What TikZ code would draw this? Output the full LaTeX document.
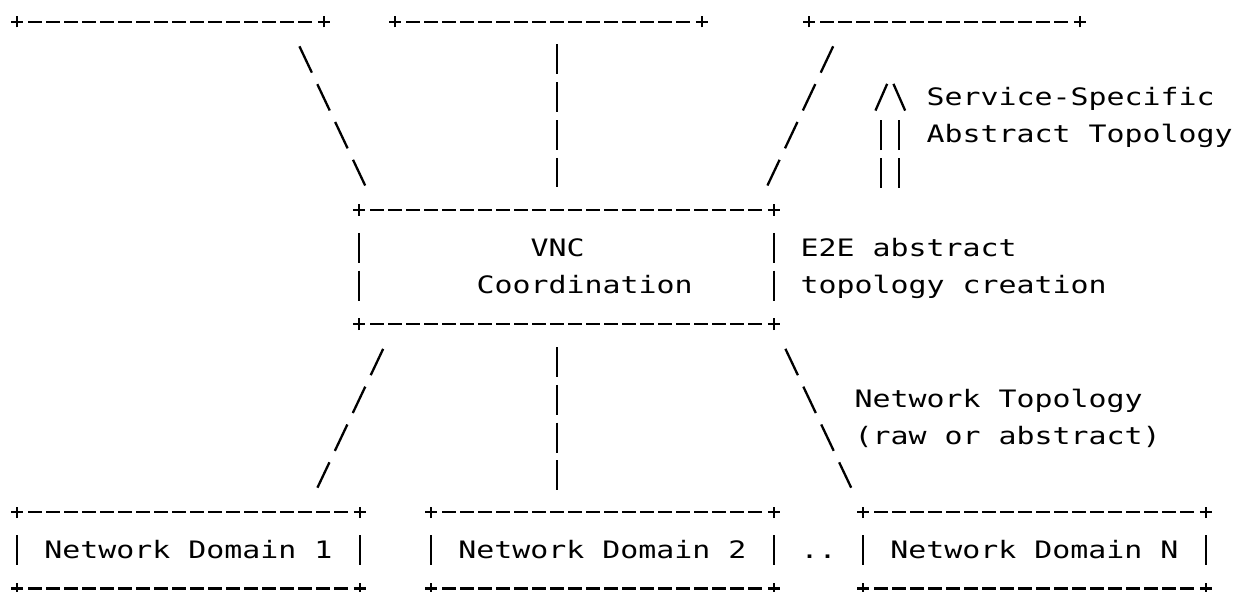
\documentclass[tikz,border=0pt]{standalone}
\usepackage{fontspec}
\newfontfamily\asc[FakeStretch=1.2457]{DejaVu Sans Mono}
\newcommand\pluss[1]{\draw[pl] (#1) +(-2.9pt,0pt) -- +(2.9pt,0pt) +(0pt,-2.9pt) -- +(0pt,2.9pt);}
\newcommand\hedge[2]{\draw[hd] ([xshift=5.675pt]#1) -- ([xshift=-5.675pt]#2);}
\newcommand\vedge[2]{\draw[vd] ([yshift=-11.385pt]#1) -- ([yshift=11.385pt]#2);}
\newcommand\abox[1]{%
  \hedge{#1.north west}{#1.north east}\hedge{#1.south west}{#1.south east}%
  \vedge{#1.north west}{#1.south west}\vedge{#1.north east}{#1.south east}%
  \pluss{#1.north west}\pluss{#1.north east}\pluss{#1.south west}\pluss{#1.south east}}
\newcommand\abottom[1]{%
  \hedge{#1.south west}{#1.south east}\pluss{#1.south west}\pluss{#1.south east}}
\begin{document}
\begin{tikzpicture}[x=9pt,y=-18.885pt,
  hd/.style={line width=1.15pt,dash pattern=on 6.65pt off 2.35pt},
  vd/.style={line width=1.15pt,dash pattern=on 15pt off 3.885pt},
  sd/.style={line width=1.15pt,dash pattern=on 14.575pt off 6.345pt},
  pl/.style={line width=1.15pt},
  hs/.style={line width=1.15pt},
  txt/.style={font={\asc\fontsize{12}{14}\selectfont},inner sep=0pt,anchor=base west},
  tbox/.style={inner sep=0pt,minimum height=18.885pt,anchor=south},
  dbox/.style={inner sep=0pt,minimum width=171pt,minimum height=37.77pt,
    text height=7.8pt,text depth=0pt,font={\asc\fontsize{12}{14}\selectfont}},
  vbox/.style={inner sep=0pt,minimum width=207pt,minimum height=56.655pt}]
\fill[white] (-0.9611,-0.5745) rectangle (68.317,15.0993);
\useasboundingbox (-0.9611,-0.5745) rectangle (68.317,15.0993);

% boxes
\node[tbox,minimum width=153pt] (topA) at (8.5,0) {};
\node[tbox,minimum width=153pt] (topB) at (29.5,0) {};
\node[tbox,minimum width=135pt] (topC) at (51.5,0) {};
\node[vbox] (vnc) at (30.5,6.5) {};
\node[dbox] (d1) at (9.5,14) {Network Domain 1};
\node[dbox] (d2) at (32.5,14) {Network Domain 2};
\node[dbox] (dN) at (56.5,14) {Network Domain N};
\abottom{topA}\abottom{topB}\abottom{topC}
\abox{vnc}\abox{d1}\abox{d2}\abox{dN}

% texts
\node[txt] (vnct) at (28.5,6.2065) {VNC};
\node[txt] (coord) at (25.5,7.2065) {Coordination};
\node[txt] (e2e) at (43.5,6.2065) {E2E abstract};
\node[txt] (topc) at (43.5,7.2065) {topology creation};
\node[txt] (svc) at (50.5,2.2065) {Service-Specific};
\node[txt] (abst) at (50.5,3.2065) {Abstract Topology};
\node[txt] (nt) at (46.5,10.2065) {Network Topology};
\node[txt] (raw) at (46.5,11.2065) {(raw or abstract)};
\node[txt] (dots) at (43.5,14.2065) {..};

% connectors
\draw[sd] ([shift={(-1.3484,0.6516)}]topA.south east) -- ([shift={(0.3484,-0.6516)}]vnc.north west);
\draw[vd] ([shift={(0.5,0.60286)}]topB.south) -- ([shift={(-0.5,-0.60286)}]vnc.north);
\draw[sd] ([shift={(1.3484,0.6516)}]topC.south west) -- ([shift={(-0.3484,-0.6516)}]vnc.north east);
\draw[sd] ([shift={(1.3484,0.6516)}]vnc.south west) -- ([shift={(-2.3484,-0.6516)}]d1.north east);
\draw[vd] ([shift={(-0.5,0.60286)}]vnc.south) -- ([shift={(-2.5,-0.60286)}]d2.north);
\draw[sd] ([shift={(0.6516,0.6516)}]vnc.south east) -- ([shift={(-0.6516,-0.6516)}]dN.north west);

% upward double arrow
\coordinate (arrhead) at (48.5,2);
\coordinate (arrL) at (48,4.39714);
\coordinate (arrR) at (49,4.39714);
\draw[vd] (arrL) -- ++(0,-1.79428);
\draw[vd] (arrR) -- ++(0,-1.79428);
\draw[hs] ([shift={(-0.825,0.3535)}]arrhead) -- ([shift={(-0.175,-0.3535)}]arrhead);
\draw[hs] ([shift={(0.175,-0.3535)}]arrhead) -- ([shift={(0.825,0.3535)}]arrhead);
\end{tikzpicture}
\end{document}
